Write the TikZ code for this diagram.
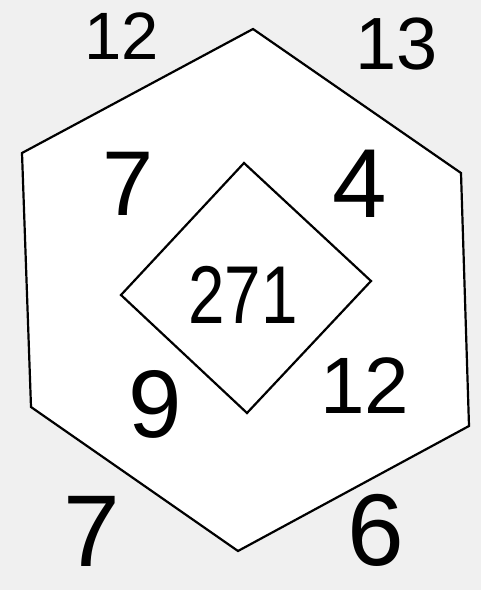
\documentclass[tikz,border=0pt]{standalone}
\usepackage{fontspec}
\setmainfont{Liberation Sans}
\tikzset{
  shape line/.style={draw=black, line width=2.2pt, line join=miter, fill=white},
  num/.style={inner sep=0pt, text=black},
}
\newcommand{\fs}[1]{\fontsize{#1}{#1}\selectfont}
\begin{document}
\begin{tikzpicture}[x=1pt,y=-1pt]
\fill[fill={rgb,255:red,240;green,240;blue,240}] (0,0) rectangle (481,590);
\useasboundingbox (0,0) rectangle (481,590);
% hexagon
\coordinate (h1) at (253,29);
\coordinate (h2) at (461,173);
\coordinate (h3) at (469,426);
\coordinate (h4) at (238,551);
\coordinate (h5) at (31,407);
\coordinate (h6) at (22,153);
\draw[shape line] (h1) -- (h2) -- (h3) -- (h4) -- (h5) -- (h6) -- cycle;
% diamond
\coordinate (d1) at (244,163);
\coordinate (d2) at (371,281);
\coordinate (d3) at (247,413);
\coordinate (d4) at (121,295);
\draw[shape line] (d1) -- (d2) -- (d3) -- (d4) -- cycle;
% numbers
\node[num, font=\fs{67}] (n12a) at (122,36) {12};
\node[num, font=\fs{74}] (n13) at (397,44) {13};
\node[num, font=\fs{92}] (n7a) at (128,184) {7};
\node[num, font=\fs{98}] (n4) at (360,184) {4};
\node[num, font=\fs{82}, xscale=0.8] (n271) at (243,295) {271};
\node[num, font=\fs{96}] (n9) at (155,404) {9};
\node[num, font=\fs{80}] (n12b) at (365,386) {12};
\node[num, font=\fs{102}] (n7b) at (92,531) {7};
\node[num, font=\fs{102}] (n6) at (376,530) {6};
\end{tikzpicture}
\end{document}
